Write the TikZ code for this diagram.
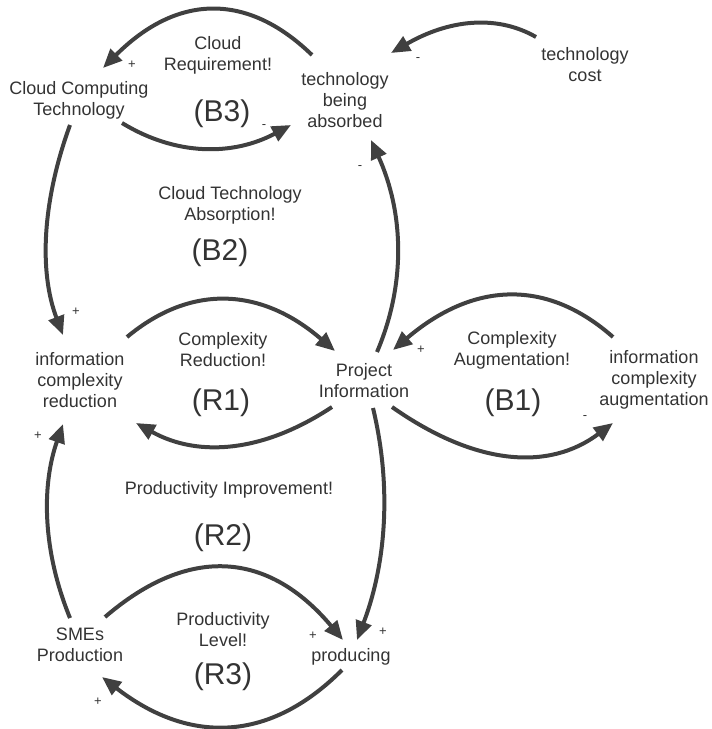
\documentclass[tikz,border=0pt]{standalone}
\usepackage{fontspec}
\setmainfont{Liberation Sans}
\usetikzlibrary{arrows.meta,calc}
\definecolor{arrowgray}{HTML}{404040}
\definecolor{textgray}{HTML}{333333}
\begin{document}
\begin{tikzpicture}[x=1pt,y=-1pt,
  var/.style={align=center,inner sep=0pt,text=textgray,font=\fontsize{18}{21}\selectfont},
  looplabel/.style={align=center,inner sep=0pt,text=textgray,font=\fontsize{18}{21}\selectfont},
  loopid/.style={inner sep=0pt,text=textgray,font=\fontsize{30}{34}\selectfont},
  pol/.style={inner sep=0pt,text=textgray,font=\fontsize{13}{15}\selectfont},
  link/.style={draw=arrowgray,line width=4pt,-{Triangle[length=19pt,width=16pt]}}]
\useasboundingbox (0,0) rectangle (712,729);

% variables
\node[var] (cct)  at (79,100)  {Cloud Computing\\Technology};
\node[var] (tba)  at (345,100) {technology\\being\\absorbed};
\node[var] (tc)   at (585,65)  {technology\\cost};
\node[var] (icr)  at (80,380)  {information\\complexity\\reduction};
\node[var] (pi)   at (364,381) {Project\\Information};
\node[var] (ica)  at (654,380) {information\\complexity\\augmentation};
\node[var] (sme)  at (80,645)  {SMEs\\Production};
\node[var] (prod) at (351,657) {producing};

% loop labels
\node[looplabel] (lb3) at (218,55)  {Cloud\\Requirement!};
\node[loopid]    (b3)  at (222,114) {(B3)};
\node[looplabel] (lb2) at (230,205) {Cloud Technology\\Absorption!};
\node[loopid]    (b2)  at (220,253) {(B2)};
\node[looplabel] (lr1) at (223,350) {Complexity\\Reduction!};
\node[loopid]    (r1)  at (221,403) {(R1)};
\node[looplabel] (lb1) at (512,350) {Complexity\\Augmentation!};
\node[loopid]    (b1)  at (513,403) {(B1)};
\node[looplabel] (lr2) at (229,490) {Productivity Improvement!};
\node[loopid]    (r2)  at (223,538) {(R2)};
\node[looplabel] (lr3) at (223,630) {Productivity\\Level!};
\node[loopid]    (r3)  at (223,677) {(R3)};

% polarities
\node[pol] (p1)  at (132,65)  {+};
\node[pol] (p2)  at (264,127) {-};
\node[pol] (p3)  at (418,60)  {-};
\node[pol] (p4)  at (360,168) {-};
\node[pol] (p5)  at (76,312)  {+};
\node[pol] (p6)  at (421,350) {+};
\node[pol] (p7)  at (585,418) {-};
\node[pol] (p8)  at (38,436)  {+};
\node[pol] (p9)  at (383,632) {+};
\node[pol] (p10) at (313,636) {+};
\node[pol] (p11) at (98,702)  {+};

% links
\draw[link] ($(tba)+(-33,-45)$) .. controls (246,-9) and (176,-5) .. ($(cct)+(24,-32)$);
\draw[link] ($(cct)+(43,23)$) .. controls (176,156) and (233,156) .. ($(tba)+(-54,25)$);
\draw[link] ($(tc)+(-49,-28)$) .. controls (496,14) and (448,20) .. ($(tba)+(46,-47)$);
\draw[link] ($(cct)+(-9,25)$) .. controls (42,202) and (39,272) .. ($(icr)+(-17,-45)$);
\draw[link] ($(pi)+(13,-29)$) .. controls (406,284) and (404,213) .. ($(tba)+(26,40)$);
\draw[link] ($(icr)+(47,-43)$) .. controls (192,283) and (262,288) .. ($(pi)+(-29,-30)$);
\draw[link] ($(pi)+(-32,26)$) .. controls (264,452) and (199,458) .. ($(icr)+(56,43)$);
\draw[link] ($(ica)+(-41,-43)$) .. controls (546,278) and (473,282) .. ($(pi)+(29,-31)$);
\draw[link] ($(pi)+(28,26)$) .. controls (476,466) and (549,471) .. ($(ica)+(-41,43)$);
\draw[link] ($(sme)+(-10,-27)$) .. controls (43,552) and (41,487) .. ($(icr)+(-17,44)$);
\draw[link] ($(pi)+(9,27)$) .. controls (392,487) and (386,564) .. ($(prod)+(6,-17)$);
\draw[link] ($(sme)+(25,-28)$) .. controls (190,544) and (269,552) .. ($(prod)+(-8,-17)$);
\draw[link] ($(prod)+(-9,13)$) .. controls (270,742) and (190,745) .. ($(sme)+(22,32)$);
\end{tikzpicture}
\end{document}
